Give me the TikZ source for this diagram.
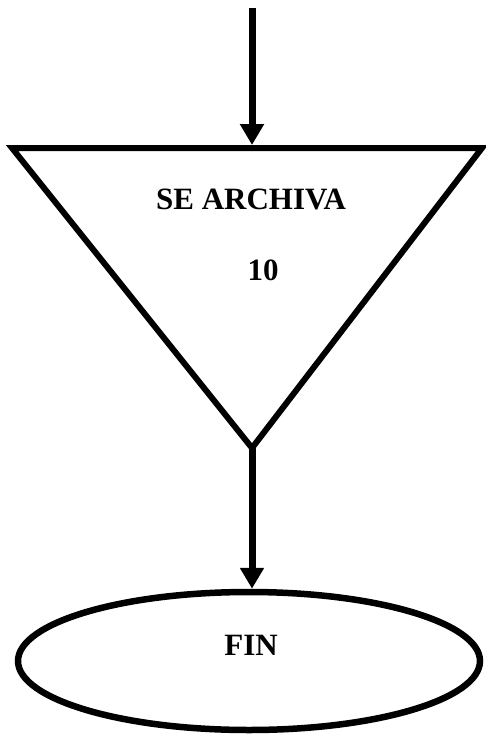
\documentclass[tikz,border=0pt]{standalone}
\usepackage{fontspec}
\setmainfont{Liberation Serif}
\usetikzlibrary{arrows.meta,shapes.geometric}
\begin{document}
\begin{tikzpicture}[x=1pt,y=-1pt,
  conn/.style={line width=7pt,-{Triangle[length=21pt,width=23pt]}},
  shapeline/.style={line width=6pt,line join=miter},
  lbl/.style={font=\fontsize{31}{33}\selectfont\bfseries,inner sep=0pt}]
\useasboundingbox (0,0) rectangle (486,736);
\coordinate (start) at (252,8);
\coordinate (tl) at (12,148);
\coordinate (tr) at (482,148);
\coordinate (apex) at (252,448);
\coordinate (toptip) at (252,145);
\draw[shapeline] (tl) -- (tr) -- (apex) -- cycle;
\node[lbl] (t1) at (251,199) {SE ARCHIVA};
\node[lbl] (t2) at (263,270) {10};
\node[draw,ellipse,line width=6.5pt,minimum width=462pt,minimum height=138pt,inner sep=0pt] (fin) at (249,661) {};
\node[lbl] (t3) at (251,645) {FIN};
\draw[conn] (start) -- (toptip);
\draw[conn] (apex) -- (apex |- fin.north);
\end{tikzpicture}
\end{document}
